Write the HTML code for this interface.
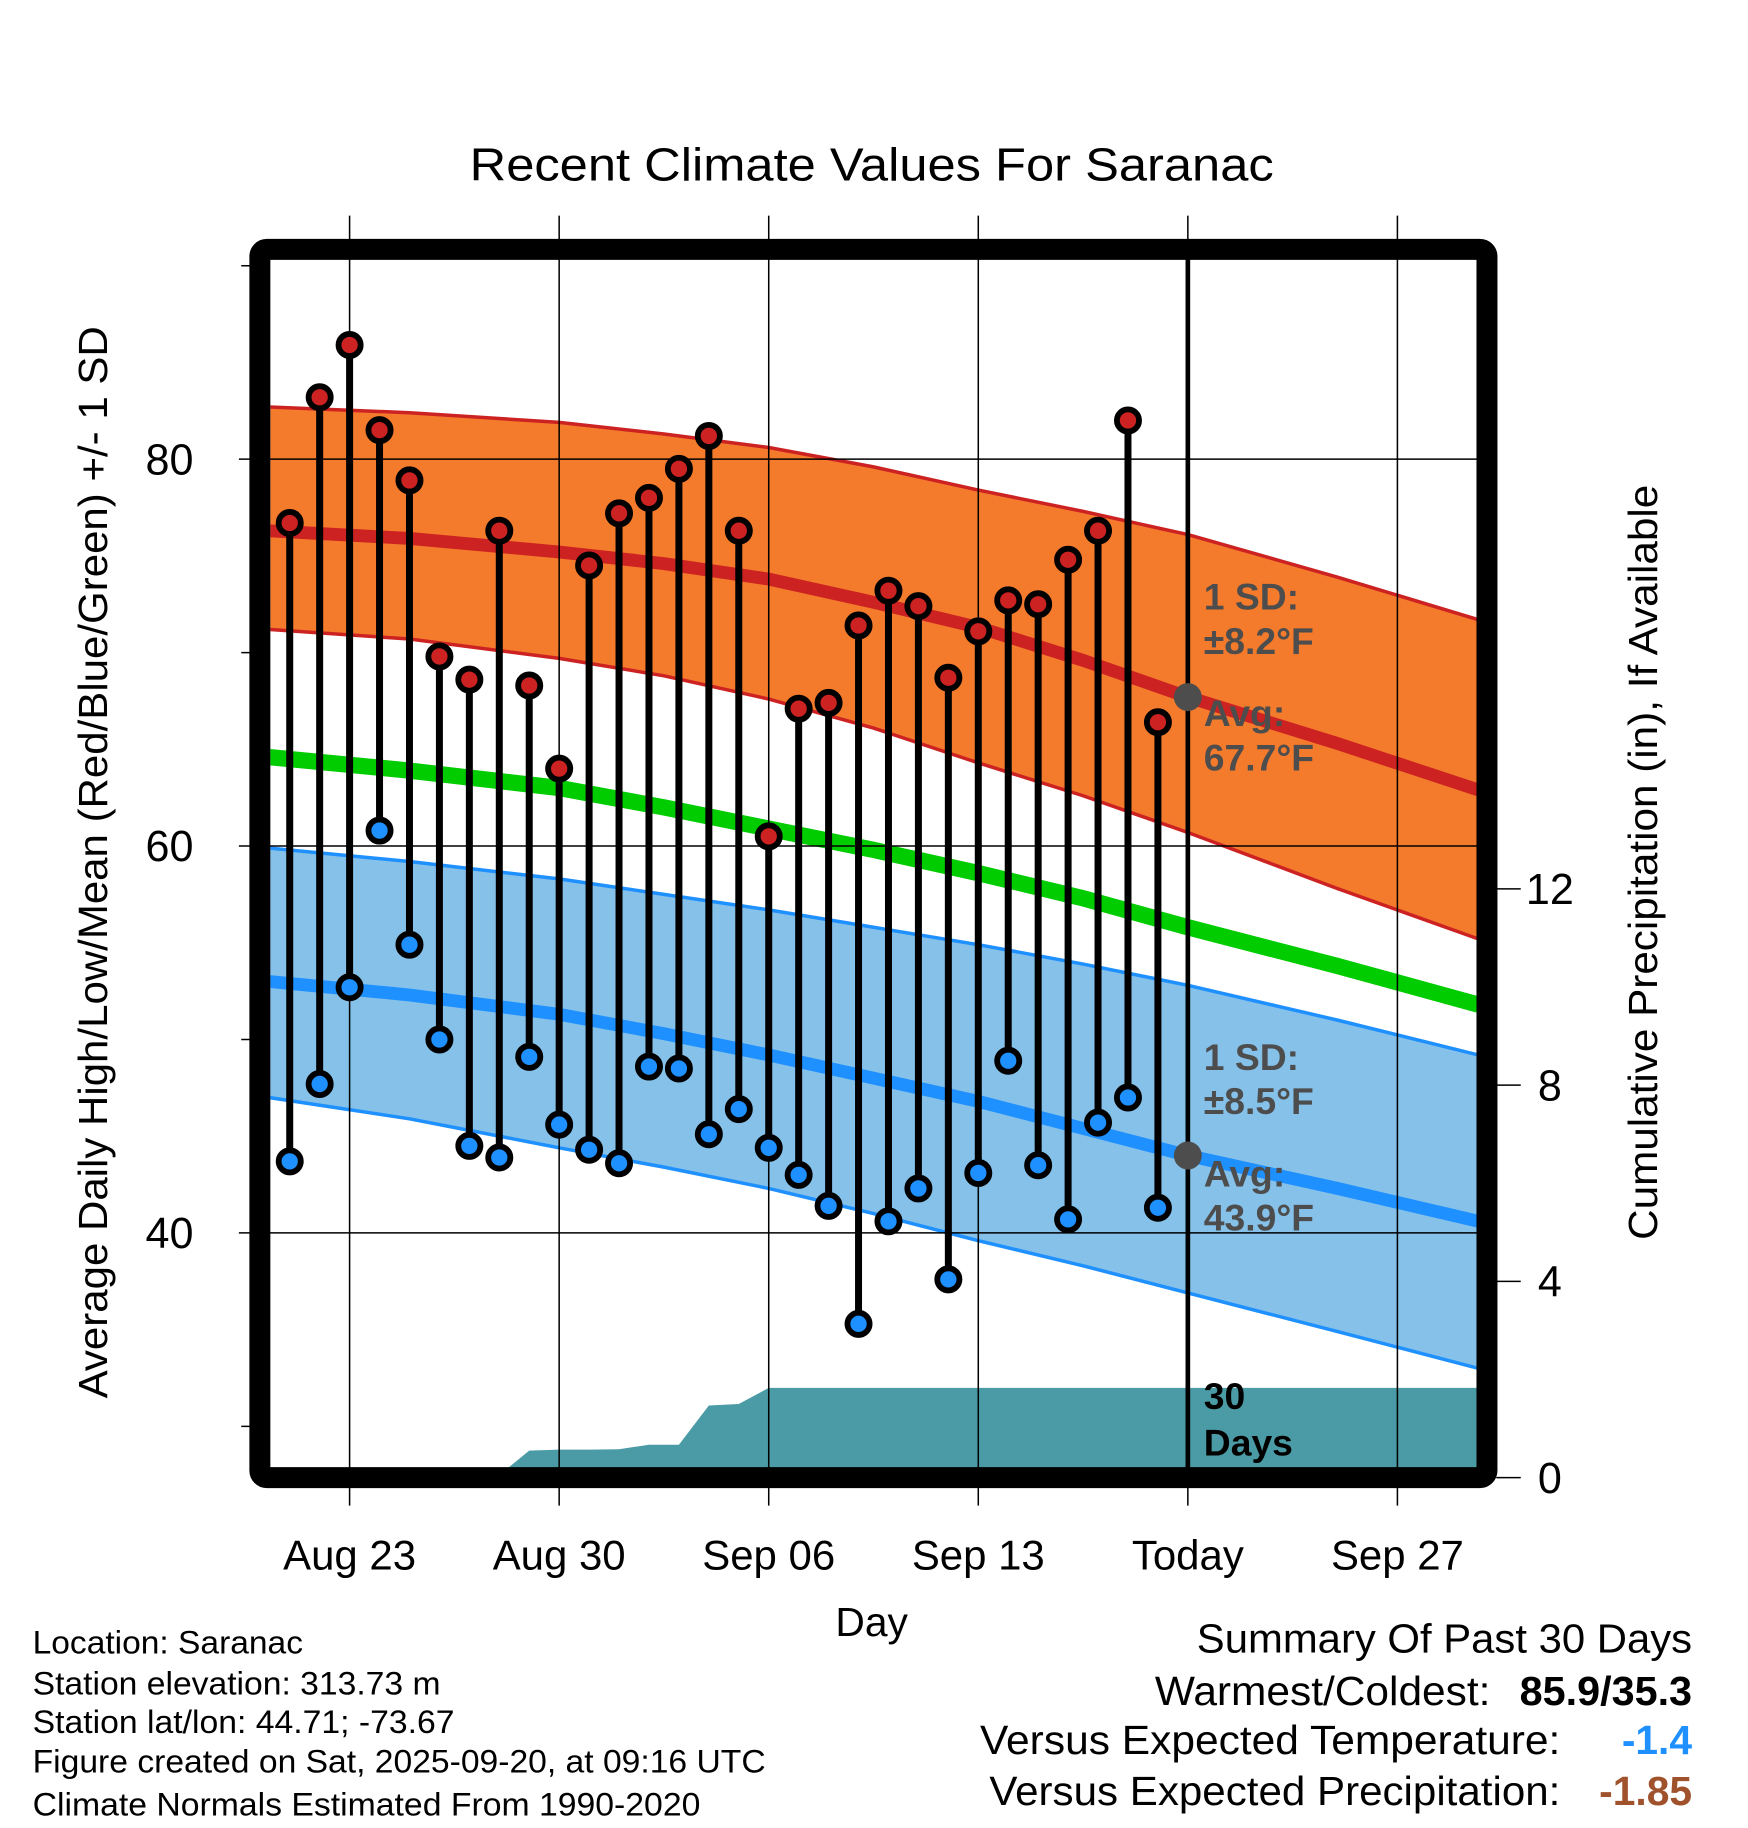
<!DOCTYPE html>
<html><head><meta charset="utf-8"><style>
html,body{margin:0;padding:0;background:#fff}
svg{display:block;font-family:"Liberation Sans",sans-serif}
</style></head><body>
<svg id="chart" width="1748" height="1828" viewBox="0 0 1500 1568.65" preserveAspectRatio="none" xmlns="http://www.w3.org/2000/svg">
<defs><clipPath id="plotclip"><rect x="232" y="222" width="1036" height="1038"/></clipPath></defs>
<text x="748" y="155" font-size="40" text-anchor="middle" textLength="690" lengthAdjust="spacingAndGlyphs">Recent Climate Values For Saranac</text>
<g id="bands" clip-path="url(#plotclip)"></g>
<g id="grid"></g>
<g id="marks" clip-path="url(#plotclip)"></g>
<rect x="223" y="214" width="1053" height="1054" fill="none" stroke="#000" stroke-width="18" rx="6"/>
<g id="axes"></g>
<text transform="translate(92,740) rotate(-90)" font-size="35" text-anchor="middle" textLength="920" lengthAdjust="spacingAndGlyphs">Average Daily High/Low/Mean (Red/Blue/Green) +/- 1 SD</text>
<text transform="translate(1422,740) rotate(-90)" font-size="35" text-anchor="middle" textLength="648" lengthAdjust="spacingAndGlyphs">Cumulative Precipitation (in), If Available</text>
<text x="748" y="1404" font-size="35" text-anchor="middle">Day</text>
<g font-size="28">
<text x="28" y="1419" textLength="232" lengthAdjust="spacingAndGlyphs">Location: Saranac</text>
<text x="28" y="1454" textLength="350" lengthAdjust="spacingAndGlyphs">Station elevation: 313.73 m</text>
<text x="28" y="1487" textLength="362" lengthAdjust="spacingAndGlyphs">Station lat/lon: 44.71; -73.67</text>
<text x="28" y="1521" textLength="629" lengthAdjust="spacingAndGlyphs">Figure created on Sat, 2025-09-20, at 09:16 UTC</text>
<text x="28" y="1558" textLength="573" lengthAdjust="spacingAndGlyphs">Climate Normals Estimated From 1990-2020</text>
</g>
<g font-size="35">
<text x="1027" y="1418" textLength="425" lengthAdjust="spacingAndGlyphs">Summary Of Past 30 Days</text>
<text x="991" y="1463" textLength="288" lengthAdjust="spacingAndGlyphs">Warmest/Coldest:</text>
<text x="1304" y="1463" font-weight="bold" textLength="148" lengthAdjust="spacingAndGlyphs">85.9/35.3</text>
<text x="841" y="1505" textLength="498" lengthAdjust="spacingAndGlyphs">Versus Expected Temperature:</text>
<text x="1452" y="1505" font-weight="bold" fill="#1e90ff" text-anchor="end">-1.4</text>
<text x="849" y="1549" textLength="490" lengthAdjust="spacingAndGlyphs">Versus Expected Precipitation:</text>
<text x="1452" y="1549" font-weight="bold" fill="#a0522d" text-anchor="end">-1.85</text>
</g>
</svg>
<script>
const days = [-2,-1,0,1,2,3,4,5,6,7,8,9,10,11,12,13,14,15,16,17,18,19,20,21,22,23,24,25,26,27];
const highs = [76.7,83.2,85.9,81.5,78.9,69.8,68.6,76.3,68.3,64.0,74.5,77.2,78.0,79.5,81.2,76.3,60.5,67.1,67.4,71.4,73.2,72.4,68.7,71.1,72.7,72.5,74.8,76.3,82.0,66.4];
const lows = [43.7,47.7,52.7,60.8,54.9,50.0,44.5,43.9,49.1,45.6,44.3,43.6,48.6,48.5,45.1,46.4,44.4,43.0,41.4,35.3,40.6,42.3,37.6,43.1,48.9,43.5,40.7,45.7,47.0,41.3];
const precipDays = [-3,4,5,6,7,8,9,10,11,12,13,14,28,38];
const precipCum = [0,0,0.05,0.55,0.57,0.57,0.58,0.67,0.67,1.47,1.5,1.83,1.83,1.83];
const normDays = [-2.7,2,7,10.5,14,17.5,21,24.5,28,33,37.7];
const normHigh = [76.3,75.9,75.2,74.6,73.8,72.6,71.3,69.6,67.7,65.3,62.9];
const normHighUp = [82.7,82.4,81.9,81.3,80.6,79.6,78.4,77.3,76.1,73.9,71.7];
const normHighLo = [71.2,70.7,69.7,68.8,67.6,66.1,64.3,62.6,60.7,57.8,55.2];
const normMean = [64.6,63.9,63.0,62.0,60.9,59.8,58.6,57.3,55.8,53.8,51.8];
const normLow = [53.0,52.3,51.3,50.3,49.2,48.0,46.8,45.4,44.0,42.3,40.6];
const normLowUp = [59.9,59.2,58.3,57.5,56.7,55.8,54.9,53.9,52.8,51.0,49.2];
const normLowLo = [47.0,45.9,44.4,43.4,42.3,41.0,39.6,38.3,36.9,34.9,33.0];
const yTicks = [40,60,80];
const yMinor = [30,50,70,90];
const y2Ticks = [0,4,8,12];
const xTickDays = [0,7,14,21,28,35];
const xTickLabels = ["Aug 23","Aug 30","Sep 06","Sep 13","Today","Sep 27"];
const todayDay = 28;

const NS="http://www.w3.org/2000/svg";
const X = d => 300 + d*25.69;
const Y = v => 394 - (v-80)*16.6;
const Y2 = p => 1268 - p*42.1;
function mk(parent, tag, attrs){const e=document.createElementNS(NS,tag);for(const k in attrs)e.setAttribute(k,attrs[k]);document.getElementById(parent).appendChild(e);return e;}
function pts(arr){return normDays.map((d,i)=>X(d)+','+Y(arr[i])).join(' ');}
function band(up,lo){return normDays.map((d,i)=>X(d)+','+Y(up[i])).join(' ')+' '+normDays.slice().reverse().map((d,j)=>{const i=normDays.length-1-j;return X(d)+','+Y(lo[i]);}).join(' ');}

let e;
e=mk('bands','polygon',{points:band(normHighUp,normHighLo),fill:'#f47a2c'});


e=mk('bands','polyline',{points:pts(normHighUp),fill:'none',stroke:'#cc2222','stroke-width':3});


e=mk('bands','polyline',{points:pts(normHighLo),fill:'none',stroke:'#cc2222','stroke-width':3});


e=mk('bands','polygon',{points:band(normLowUp,normLowLo),fill:'#85c1e9'});


e=mk('bands','polyline',{points:pts(normLowUp),fill:'none',stroke:'#1e90ff','stroke-width':3});


e=mk('bands','polyline',{points:pts(normLowLo),fill:'none',stroke:'#1e90ff','stroke-width':3});


e=mk('bands','polyline',{points:pts(normHigh),fill:'none',stroke:'#cc2222','stroke-width':11});


e=mk('bands','polyline',{points:pts(normMean),fill:'none',stroke:'#00cc00','stroke-width':14});


e=mk('bands','polyline',{points:pts(normLow),fill:'none',stroke:'#1e90ff','stroke-width':11});


let pp=X(precipDays[0])+','+Y2(0)+' '+precipDays.map((d,i)=>X(d)+','+Y2(precipCum[i])).join(' ')+' '+X(precipDays[precipDays.length-1])+','+Y2(0);
e=mk('bands','polygon',{points:pp,fill:'#4a9ba5'});



xTickDays.forEach((d,i)=>{
  e=mk('grid','line',{x1:X(d),x2:X(d),y1:185,y2:1292,stroke:'#000','stroke-width':1.3});
  
  
  e=mk('axes','text',{x:X(d),y:1347,'font-size':36,'text-anchor':'middle'});
  e.textContent=xTickLabels[i];
  
  
});
yTicks.forEach(v=>{
  e=mk('grid','line',{x1:205,x2:1268,y1:Y(v),y2:Y(v),stroke:'#000','stroke-width':1.3});
  
  
  e=mk('axes','text',{x:166,y:Y(v)+13,'font-size':37,'text-anchor':'end'});
  e.textContent=v;
  
  
});
yMinor.forEach(v=>{
  e=mk('grid','line',{x1:207,x2:222,y1:Y(v),y2:Y(v),stroke:'#000','stroke-width':1.3});
  
  
});
y2Ticks.forEach(p=>{
  e=mk('axes','line',{x1:1284,x2:1305,y1:Y2(p),y2:Y2(p),stroke:'#000','stroke-width':1.3});
  
  
  e=mk('axes','text',{x:1330,y:Y2(p)+13,'font-size':37,'text-anchor':'middle'});
  e.textContent=p;
  
  
});

days.forEach((d,i)=>{
  e=mk('marks','line',{x1:X(d),x2:X(d),y1:Y(highs[i]),y2:Y(lows[i]),stroke:'#000','stroke-width':6});
  
  
});
days.forEach((d,i)=>{
  e=mk('marks','circle',{cx:X(d),cy:Y(highs[i]),r:9.5,fill:'#cc2222',stroke:'#000','stroke-width':5});
  
  
  e=mk('marks','circle',{cx:X(d),cy:Y(lows[i]),r:9.5,fill:'#1e90ff',stroke:'#000','stroke-width':5});
  
  
});
e=mk('marks','line',{x1:X(todayDay),x2:X(todayDay),y1:222,y2:1262,stroke:'#000','stroke-width':4});


const todayHigh = normHigh[8], todayLow = normLow[8];
e=mk('marks','circle',{cx:X(todayDay),cy:Y(todayHigh),r:12,fill:'#4d4d4d'});


e=mk('marks','circle',{cx:X(todayDay),cy:Y(todayLow),r:12,fill:'#4d4d4d'});


const labels=[["1 SD:",523,'#4d4d4d'],["±8.2°F",561,'#4d4d4d'],["Avg:",623,'#4d4d4d'],["67.7°F",661,'#4d4d4d'],["1 SD:",918,'#4d4d4d'],["±8.5°F",956,'#4d4d4d'],["Avg:",1018,'#4d4d4d'],["43.9°F",1056,'#4d4d4d'],["30",1209,'#000'],["Days",1249,'#000']];
labels.forEach(l=>{
  e=mk('marks','text',{x:1033,y:l[1],'font-size':32,'font-weight':'bold',fill:l[2]});
  e.textContent=l[0];
  
  
});
</script>
</body></html>
